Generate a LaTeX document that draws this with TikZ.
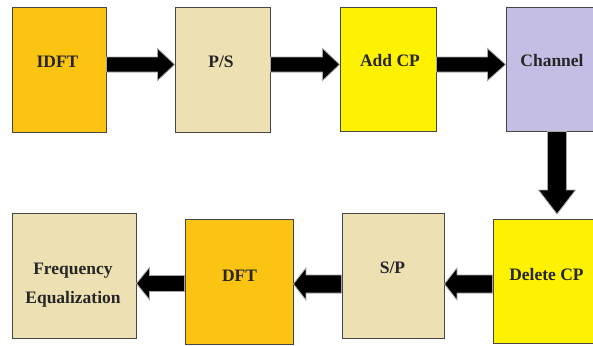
\documentclass[tikz,border=0pt]{standalone}
\usepackage{fontspec}
\setmainfont{Liberation Serif}[BoldFont={Liberation Serif Bold}]
\newfontfamily\blocklabelfont{Liberation Serif Bold}
\usetikzlibrary{calc}

\definecolor{boxorange}{RGB}{251,195,18}
\definecolor{boxbeige}{RGB}{237,224,178}
\definecolor{boxyellow}{RGB}{255,242,0}
\definecolor{boxlilac}{RGB}{196,189,228}
\definecolor{boxedge}{RGB}{70,70,70}

\tikzset{
  block/.style n args={3}{draw=boxedge, line width=0.9pt, fill=#1,
    minimum width=#2pt, minimum height=#3pt, inner sep=0pt},
  lbl/.style={font=\blocklabelfont\fontsize{17.5}{20}\selectfont, text=black!85,
    anchor=base, inner sep=0pt},
  arrowbody/.style={fill=black, draw=gray!70, line width=0.8pt, line join=miter}
}

% horizontal block arrow: start, tip, signed offset tip->head base, shaft half, head half
\newcommand\hblock[5]{%
  \path[arrowbody] let \p1=(#1), \p2=(#2) in
    (\x1,\y2+#4) -- ({\x2+(#3)},\y2+#4) -- ({\x2+(#3)},\y2+#5) -- (\x2,\y2)
    -- ({\x2+(#3)},\y2-#5) -- ({\x2+(#3)},\y2-#4) -- (\x1,\y2-#4) -- cycle;}
% downward block arrow: start, tip
\newcommand\vblock[2]{%
  \path[arrowbody] let \p1=(#1), \p2=(#2) in
    (\x2-9.5pt,\y1) -- (\x2-9.5pt,\y2+24pt) -- (\x2-18.5pt,\y2+24pt) -- (\x2,\y2)
    -- (\x2+18.5pt,\y2+24pt) -- (\x2+9.5pt,\y2+24pt) -- (\x2+9.5pt,\y1) -- cycle;}

\begin{document}
\begin{tikzpicture}[x=1pt, y=-1pt]
\clip (0,0) rectangle (593,345);
\fill[white] (0,0) rectangle (593,345);

% transmitter chain
\node[block={boxorange}{94}{125}] (idft) at (59,69.5) {};
\node[block={boxbeige}{95}{125}] (ps) at (222.5,69.5) {};
\node[block={boxyellow}{96}{124}] (addcp) at (388,69) {};
\node[block={boxlilac}{94}{124}] (channel) at (553,69) {};

% receiver chain
\node[block={boxyellow}{107}{124}] (delcp) at (546.5,281) {};
\node[block={boxbeige}{102}{125}] (sp) at (393,275.5) {};
\node[block={boxorange}{108}{125}] (dft) at (239,281.5) {};
\node[block={boxbeige}{124}{125}] (feq) at (74,275.5) {};

% labels
\node[lbl] (tidft) at ($(idft.center)+(-1.5,-2.5)$) {IDFT};
\node[lbl] (tps) at ($(ps.center)+(-1.5,-2.5)$) {P/S};
\node[lbl] (taddcp) at ($(addcp.center)+(2,-2.5)$) {Add CP};
\node[lbl] (tchannel) at ($(channel.center)+(-1,-2.5)$) {Channel};
\node[lbl] (tdelcp) at ($(delcp.center)+(0,-1)$) {Delete CP};
\node[lbl] (tsp) at ($(sp.center)+(-0.5,-2.5)$) {S/P};
\node[lbl] (tdft) at ($(dft.center)+(0.5,-0.5)$) {DFT};
\node[lbl] (tfeq1) at ($(feq.center)+(-1,-1.5)$) {Frequency};
\node[lbl] (tfeq2) at ($(feq.center)+(-1,27.5)$) {Equalization};

% connectors
\coordinate (t1) at (ps.west |- 0,64.5);
\coordinate (t2) at (addcp.west |- 0,64.5);
\coordinate (t3) at (channel.west |- 0,64.5);
\hblock{idft.east}{t1}{-17pt}{7.5pt}{16pt}
\hblock{ps.east}{t2}{-17pt}{7.5pt}{16pt}
\hblock{addcp.east}{t3}{-18pt}{7.5pt}{16pt}

\coordinate (t4) at (557,214);
\vblock{channel.south}{t4}

\coordinate (t5) at (sp.east |- 0,284);
\coordinate (t6) at (dft.east |- 0,284);
\coordinate (t7) at (feq.east |- 0,283.5);
\hblock{delcp.west}{t5}{12.5pt}{9pt}{16pt}
\hblock{sp.west}{t6}{12.5pt}{9pt}{16pt}
\hblock{dft.west}{t7}{13pt}{8pt}{16pt}
\end{tikzpicture}
\end{document}
